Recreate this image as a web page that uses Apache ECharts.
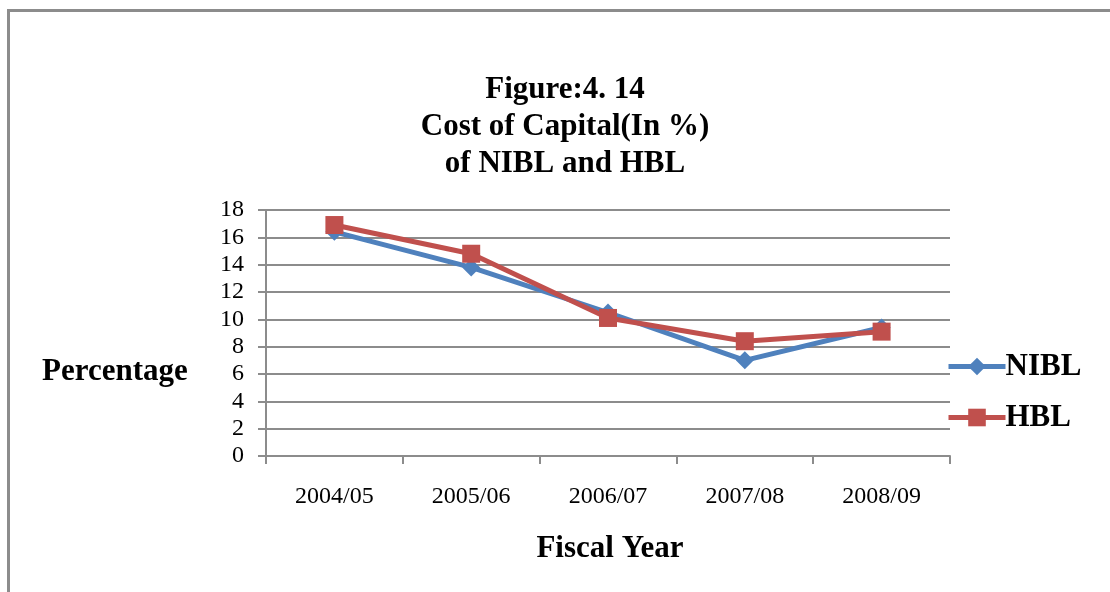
<!DOCTYPE html>
<html>
<head>
<meta charset="utf-8">
<script src="https://cdn.jsdelivr.net/npm/echarts@6/dist/echarts.min.js"></script>
<style>
html,body{margin:0;padding:0;background:#fff;}
#chart{width:1110px;height:592px;}
</style>
</head>
<body>
<div id="chart"></div>
<script>
const categories = ['2004/05', '2005/06', '2006/07', '2007/08', '2008/09'];
const nibl = [16.4, 13.8, 10.5, 7.0, 9.4];
const hbl = [16.9, 14.8, 10.1, 8.4, 9.1];
const yTicks = [0, 2, 4, 6, 8, 10, 12, 14, 16, 18];

const FONT = '"Liberation Serif", "Times New Roman", serif';
const chart = echarts.init(document.getElementById('chart'));
chart.setOption({
  backgroundColor: '#fff',
  animation: false,
  title: {
    text: 'Figure:4. 14\nCost of Capital(In %)\nof NIBL and HBL',
    left: 560, top: 66, textAlign: 'center',
    textStyle: { fontFamily: FONT, fontSize: 31, fontWeight: 'bold', color: '#000', lineHeight: 37 }
  },
  legend: {
    orient: 'vertical', left: 941, top: 346, itemWidth: 57, itemHeight: 22, itemGap: 20,
    textStyle: { fontFamily: FONT, fontSize: 31, fontWeight: 'bold', color: '#000', padding: [0, 0, 0, -5] },
    lineStyle: { width: 5 },
    data: ['NIBL', 'HBL']
  },
  grid: { left: 266, right: 160, top: 210, bottom: 136, containLabel: false },
  xAxis: {
    type: 'category', data: categories, boundaryGap: true,
    axisLine: { lineStyle: { color: '#8c8c8c', width: 2 } },
    axisTick: { show: true, length: 8, lineStyle: { color: '#8c8c8c', width: 2 } },
    axisLabel: { fontFamily: FONT, fontSize: 24, color: '#000', margin: 29 }
  },
  yAxis: {
    type: 'value', min: yTicks[0], max: yTicks[yTicks.length - 1], interval: 2,
    axisLine: { show: true, lineStyle: { color: '#8c8c8c', width: 2 } },
    axisTick: { show: true, length: 8, lineStyle: { color: '#8c8c8c', width: 2 } },
    splitLine: { show: true, lineStyle: { color: '#8c8c8c', width: 2 } },
    axisLabel: { fontFamily: FONT, fontSize: 24, color: '#000', margin: 22 }
  },
  series: [
    {
      name: 'NIBL', type: 'line', data: nibl, symbol: 'diamond', symbolSize: 18,
      lineStyle: { color: '#4F81BD', width: 5 }, itemStyle: { color: '#4F81BD' }, z: 2
    },
    {
      name: 'HBL', type: 'line', data: hbl, symbol: 'rect', symbolSize: 18,
      lineStyle: { color: '#C0504D', width: 5 }, itemStyle: { color: '#C0504D' }, z: 3
    }
  ],
  graphic: [
    { type: 'rect', left: 6, top: 8, shape: { width: 1200, height: 700 }, style: { fill: 'none', stroke: '#8c8c8c', lineWidth: 3 }, z: -1 },
    { type: 'text', x: 42, y: 372, style: { text: 'Percentage', font: 'bold 31px ' + FONT, fill: '#000', textVerticalAlign: 'middle' } },
    { type: 'text', x: 610, y: 549, style: { text: 'Fiscal Year', font: 'bold 31px ' + FONT, fill: '#000', textAlign: 'center', textVerticalAlign: 'middle' } }
  ]
});
</script>
</body>
</html>
